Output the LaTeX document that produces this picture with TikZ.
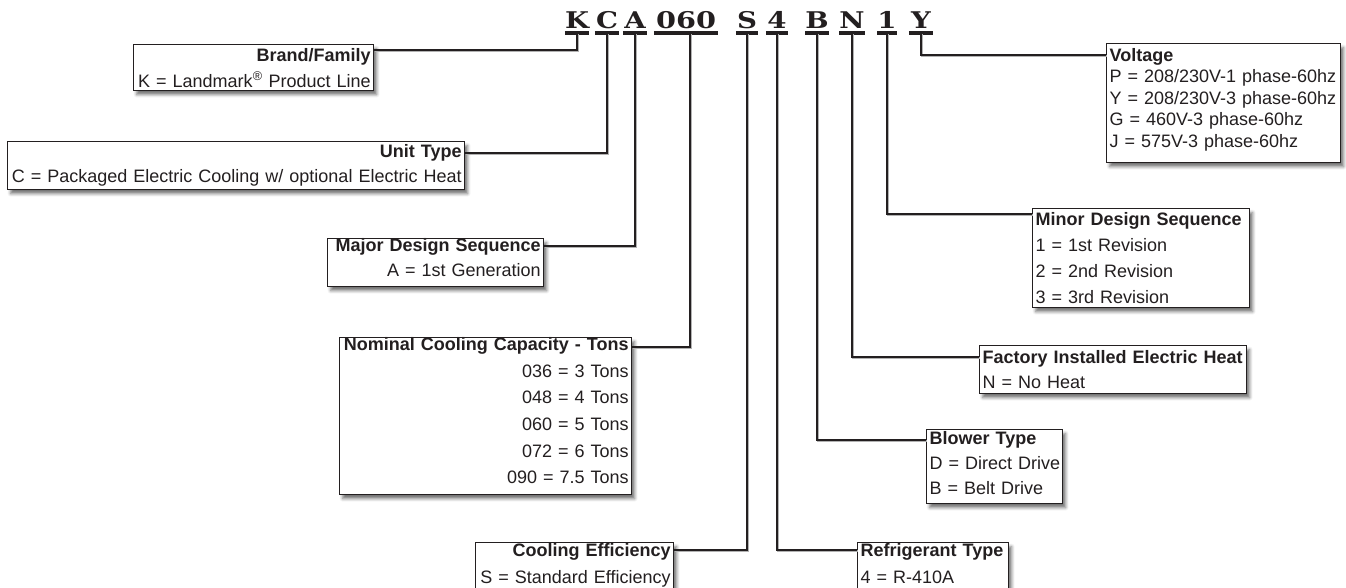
\documentclass[tikz,border=0pt]{standalone}
\usepackage{fontspec}
\setsansfont{Liberation Sans}
\newfontfamily\codefont{DejaVu Serif}
\usetikzlibrary{shadows.blur}
\definecolor{ink}{HTML}{231F20}
\newcommand{\lft}[1]{\makebox[\linewidth][l]{#1}}
\newcommand{\rgt}[1]{\makebox[\linewidth][r]{#1}}
\newcommand{\lift}[1]{\rule[-#1pt]{0pt}{1pt}}
\tikzset{
  infobox/.style={draw=ink, line width=1.2pt, fill=white, inner xsep=3pt, inner ysep=0pt,
    text=ink, anchor=north west, align=left,
    blur shadow={shadow xshift=3pt, shadow yshift=-4pt, shadow blur radius=3pt, shadow opacity=55}},
  fs/.style={font=\sffamily\fontsize{18}{#1}\selectfont},
  codeletter/.style={anchor=base, inner sep=0pt, text=ink,
    font=\codefont\bfseries\fontsize{23}{23}\selectfont},
  uline/.style={draw=ink, line width=3.2pt},
  conn/.style={draw=ink, line width=2pt,
    preaction={draw=black!30, line width=2pt, transform canvas={xshift=1pt,yshift=-1pt}}}
}
\begin{document}
\begin{tikzpicture}[x=1pt,y=-1pt]
\useasboundingbox (0,0) rectangle (1346,587);

% code letters
\node[codeletter, minimum width=24pt] (k)    at (577,28) {\scalebox{1.2}[1]{K}};
\node[codeletter, minimum width=24pt] (c)    at (607,28) {\scalebox{1.2}[1]{C}};
\node[codeletter, minimum width=24pt] (a)    at (635,28) {\scalebox{1.2}[1]{A}};
\node[codeletter, minimum width=64pt] (num)  at (686,28) {\scalebox{1.25}[1]{060}};
\node[codeletter, minimum width=22pt] (s)    at (747,28) {\scalebox{1.2}[1]{S}};
\node[codeletter, minimum width=22pt] (four) at (777,28) {\scalebox{1.2}[1]{4}};
\node[codeletter, minimum width=22pt] (b)    at (817,28) {\scalebox{1.2}[1]{B}};
\node[codeletter, minimum width=24pt] (n)    at (852,28) {\scalebox{1.2}[1]{N}};
\node[codeletter, minimum width=14pt] (one)  at (887,28) {\scalebox{1.2}[1]{1}};
\node[codeletter, minimum width=24pt] (y)    at (921,28) {\scalebox{1.2}[1]{Y}};
\foreach \m in {k,c,a,num,s,four,b,n,one,y}
  \draw[uline] ([yshift=-5pt]\m.base west) -- ([yshift=-5pt]\m.base east);

% boxes
\node[infobox, fs=26, text width=234pt, minimum height=46pt] (bf) at (133,44)
  {\rgt{\textbf{Brand/Family}}\\\rgt{K = Landmark\textsuperscript{®} Product Line}};
\node[infobox, fs=25, text width=451pt, minimum height=48pt] (ut) at (7,141)
  {\rgt{\textbf{Unit Type}}\\\rgt{C = Packaged Electric Cooling w/ optional Electric Heat}};
\node[infobox, fs=25, text width=210pt, minimum height=47pt] (md) at (327,238)
  {\rgt{\textbf{Major Design Sequence}}\\\rgt{A = 1st Generation}\lift{10}};
\node[infobox, fs=26.6, text width=286pt, minimum height=153pt] (nc) at (339,337)
  {\rgt{\textbf{Nominal Cooling Capacity - Tons}}\\\rgt{036 = 3 Tons}\\\rgt{048 = 4 Tons}\\\rgt{060 = 5 Tons}\\\rgt{072 = 6 Tons}\\\rgt{090 = 7.5 Tons}\lift{11}};
\node[infobox, fs=27, text width=192pt, minimum height=50pt] (ce) at (475,542)
  {\rgt{\textbf{Cooling Efficiency}}\\\rgt{S = Standard Efficiency}\lift{9}};
\node[infobox, fs=27, text width=145pt, minimum height=50pt] (rt) at (857,542)
  {\lft{\textbf{Refrigerant Type}}\\\lft{4 = R-410A}\lift{9}};
\node[infobox, fs=25, text width=130pt, minimum height=74pt] (bt) at (926,429)
  {\lft{\textbf{Blower Type}}\\\lft{D = Direct Drive}\\\lft{B = Belt Drive}\lift{7}};
\node[infobox, fs=25, text width=261pt, minimum height=48pt] (fi) at (979,345)
  {\lft{\textbf{Factory Installed Electric Heat}}\\\lft{N = No Heat}};
\node[infobox, fs=26.3, text width=211pt, minimum height=99pt] (mn) at (1032,208)
  {\lft{\textbf{Minor Design Sequence}}\\\lft{1 = 1st Revision}\\\lft{2 = 2nd Revision}\\\lft{3 = 3rd Revision}};
\node[infobox, fs=21.5, text width=228pt, minimum height=119pt] (vt) at (1106,43)
  {\lft{\textbf{Voltage}}\\\lft{P = 208/230V-1 phase-60hz}\\\lft{Y = 208/230V-3 phase-60hz}\\\lft{G = 460V-3 phase-60hz}\\\lft{J = 575V-3 phase-60hz}\lift{11}};

% connectors
\draw[conn] ([yshift=-6pt]bf.north east) -| ([yshift=-5pt]k.base);
\draw[conn] ([yshift=-12pt]ut.north east) -| ([yshift=-5pt]c.base);
\draw[conn] ([yshift=-8pt]md.north east) -| ([yshift=-5pt]a.base);
\draw[conn] ([yshift=-10pt]nc.north east) -| ([xshift=4pt,yshift=-5pt]num.base);
\draw[conn] ([yshift=-8pt]ce.north east) -| ([yshift=-5pt]s.base);
\draw[conn] ([yshift=-8pt]rt.north west) -| ([yshift=-5pt]four.base);
\draw[conn] ([yshift=-11pt]bt.north west) -| ([yshift=-5pt]b.base);
\draw[conn] ([yshift=-12pt]fi.north west) -| ([yshift=-5pt]n.base);
\draw[conn] ([yshift=-6pt]mn.north west) -| ([yshift=-5pt]one.base);
\draw[conn] ([yshift=-12pt]vt.north west) -| ([yshift=-5pt]y.base);
\end{tikzpicture}
\end{document}
